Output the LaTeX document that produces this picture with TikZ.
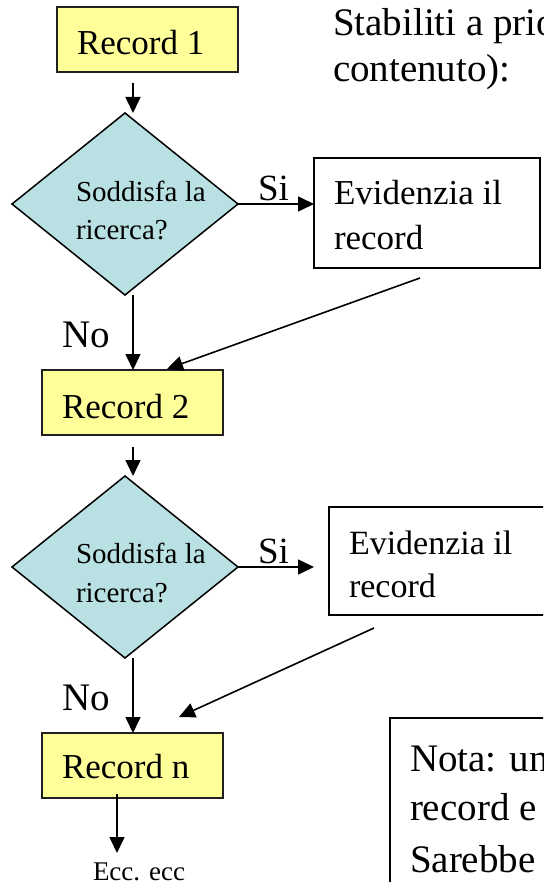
\documentclass[tikz,border=0pt]{standalone}
\usepackage{fontspec}
\setmainfont{Liberation Serif}
\usetikzlibrary{shapes.geometric,arrows.meta,calc}
\definecolor{recfill}{HTML}{FFFF99}
\definecolor{askfill}{HTML}{B9E0E2}
\definecolor{recline}{HTML}{202020}
\newcommand\fsz[1]{\fontsize{#1pt}{#1pt}\selectfont}

\begin{document}
\begin{tikzpicture}[x=1pt,y=-1pt,
  recbox/.style={draw=recline, line width=2pt, fill=recfill,
    minimum width=181pt, minimum height=65pt, inner sep=0pt, outer sep=0pt},
  ask/.style={diamond, draw=black, line width=1.5pt, fill=askfill,
    minimum width=226pt, minimum height=182pt, inner sep=0pt, outer sep=0pt},
  markbox/.style={draw=black, line width=2pt, fill=white, inner sep=0pt, outer sep=0pt},
  arr/.style={line width=1.6pt, -{Triangle[length=16pt,width=15pt]}},
  txt/.style={anchor=base west, inner sep=0pt, outer sep=0pt},
  rectxt/.style={txt, font=\fsz{35}},
  asktxt/.style={txt, font=\fsz{29}},
  marktxt/.style={txt, font=\fsz{35}},
  lbl/.style={txt, font=\fsz{37}},
  note/.style={txt, font=\fsz{39}},
]
\path[use as bounding box] (0,0) rectangle (543,882);
\clip (0,0) rectangle (543,882);

% header text
\node[note] (h1) at (333,36) {Stabiliti a prio};
\node[note] (h2) at (333,82) {contenuto):};

% first record
\node[recbox] (r1) at (147.5,39.5) {};
\node[rectxt] (r1t) at (77,55) {Record 1};

\node[ask] (d1) at (125,204) {};
\node[asktxt] (d1a) at (76,202) {Soddisfa la};
\node[asktxt] (d1b) at (76,240) {ricerca?};

\node[markbox, minimum width=226pt, minimum height=110pt] (e1) at (427,213) {};
\node[marktxt] (e1a) at (334,205) {Evidenzia il};
\node[marktxt] (e1b) at (334,250) {record};

% second record
\node[recbox] (r2) at (132.5,402.5) {};
\node[rectxt] (r2t) at (62,418) {Record 2};

\node[ask] (d2) at (125,567) {};
\node[asktxt] (d2a) at (76,563) {Soddisfa la};
\node[asktxt] (d2b) at (76,602) {ricerca?};

\node[markbox, minimum width=231pt, minimum height=108pt] (e2) at (444.5,561) {};
\node[marktxt, font=\fsz{34}] (e2a) at (349,554) {Evidenzia il};
\node[marktxt, font=\fsz{34}] (e2b) at (349,597) {record};

% last record
\node[recbox] (rn) at (132.5,765.5) {};
\node[rectxt] (rnt) at (62,778) {Record n};
\node[txt, font=\fsz{27}] (ecc) at (93,880) {Ecc. ecc};

% note box
\node[markbox, line width=2.4pt, minimum width=180pt, minimum height=182pt] (nb) at (480,809) {};
\node[note] (n1) at (410,771) {Nota: un};
\node[note] (n2) at (410,820) {record e};
\node[note] (n3) at (410,872) {Sarebbe};

% branch labels
\node[lbl] (si1) at (258,201) {Si};
\node[lbl] (si2) at (258,563) {Si};
\node[lbl, font=\fsz{39}] (no1) at (62,347) {No};
\node[lbl, font=\fsz{39}] (no2) at (62,710) {No};

% connectors
\draw[arr] ($(r1.south)+(-14.5,11)$) -- ($(d1.north)+(8,0)$);
\draw[arr] (d1.east) -- (d1.east -| e1.west);
\draw[arr] ($(e1.south)+(-7,10)$) -- ($(r2.north)+(34.5,-1)$);
\draw[arr] ($(d1.south)+(8,0)$) -- ($(r2.north)+(0.5,0)$);

\draw[arr] ($(r2.south)+(0.5,12)$) -- ($(d2.north)+(8,0)$);
\draw[arr] (d2.east) -- ($(d2.east -| e2.west)+(-15,0)$);
\draw[arr] ($(e2.south)+(-70.5,13)$) -- ($(rn.north)+(46.5,-16)$);
\draw[arr] ($(d2.south)+(8,0)$) -- ($(rn.north)+(0.5,0)$);

\draw[arr] ($(rn.south)+(-15.5,-4)$) -- ++(0,59);
\end{tikzpicture}
\end{document}
